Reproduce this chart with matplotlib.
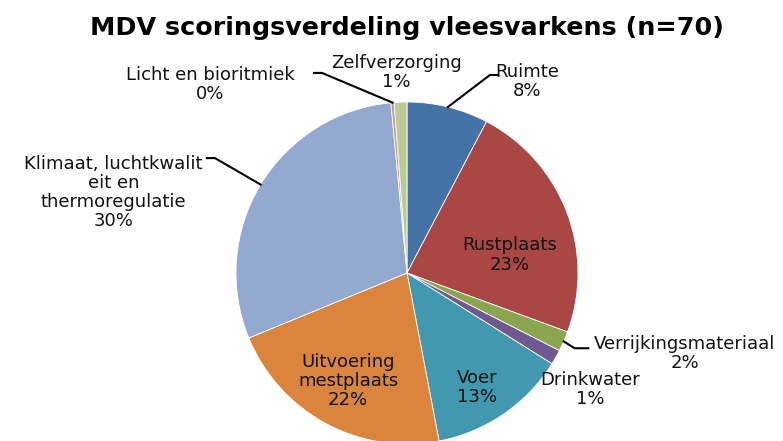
import numpy as np
import matplotlib.pyplot as plt

# slice values (percent), clockwise from 12 o'clock
categories = ["Ruimte", "Rustplaats", "Verrijkingsmateriaal", "Drinkwater", "Voer",
              "Uitvoering\nmestplaats", "Klimaat, luchtkwalit\neit en\nthermoregulatie",
              "Licht en bioritmiek", "Zelfverzorging"]
values = [7.7, 22.9, 1.9, 1.4, 13.1, 21.8, 29.7, 0.3, 1.2]
colors = ["#4572A7", "#AA4643", "#89A54E", "#71588F", "#4198AF",
          "#DB843D", "#93A9CF", "#D19392", "#B9CD96"]

# label centres (pie radius = 1) and leader line elbows/ends
label_pos = [(0.70, 1.12), (0.60, 0.105), (1.625, -0.47), (1.07, -0.68), (0.41, -0.67),
             (-0.345, -0.63), (-1.715, 0.47), (-1.15, 1.10), (-0.06, 1.17)]
leaders = {0: [(0.485, 1.158), (0.526, 1.158)],
           2: [(0.98, -0.44), (1.06, -0.44)],
           6: [(-1.123, 0.672), (-1.17, 0.672)],
           7: [(-0.497, 1.17), (-0.544, 1.17)]}

W, H = 783, 441
fig = plt.figure(figsize=(W / 100, H / 100), dpi=100)

cx, cy, r = 407, 273, 171
ax = fig.add_axes([(cx - r) / W, (H - cy - r) / H, 2 * r / W, 2 * r / H])

wedges, _ = ax.pie(values, colors=colors, startangle=90, counterclock=False,
                   radius=1, wedgeprops=dict(edgecolor="white", linewidth=0.6))
ax.set_xlim(-1, 1)
ax.set_ylim(-1, 1)
ax.set_aspect("equal")
ax.axis("off")

total = sum(values)
txt_color = "#111111"
for i, (name, v) in enumerate(zip(categories, values)):
    pct = f"{round(v / total * 100)}%"
    x, y = label_pos[i]
    ax.text(x, y, f"{name}\n{pct}", ha="center", va="center", fontsize=13,
            color=txt_color, linespacing=1.08, clip_on=False)
    if i in leaders:
        w = wedges[i]
        mid = np.deg2rad((w.theta1 + w.theta2) / 2)
        pts = [(np.cos(mid), np.sin(mid))] + leaders[i]
        xs, ys = zip(*pts)
        ax.plot(xs, ys, color="black", lw=1.5, clip_on=False)

fig.text(407 / W, 1 - 28 / H, "MDV scoringsverdeling vleesvarkens (n=70)",
         ha="center", va="center", fontsize=18.3, fontweight="bold", color="black")

fig.savefig("out.png", dpi=100)
